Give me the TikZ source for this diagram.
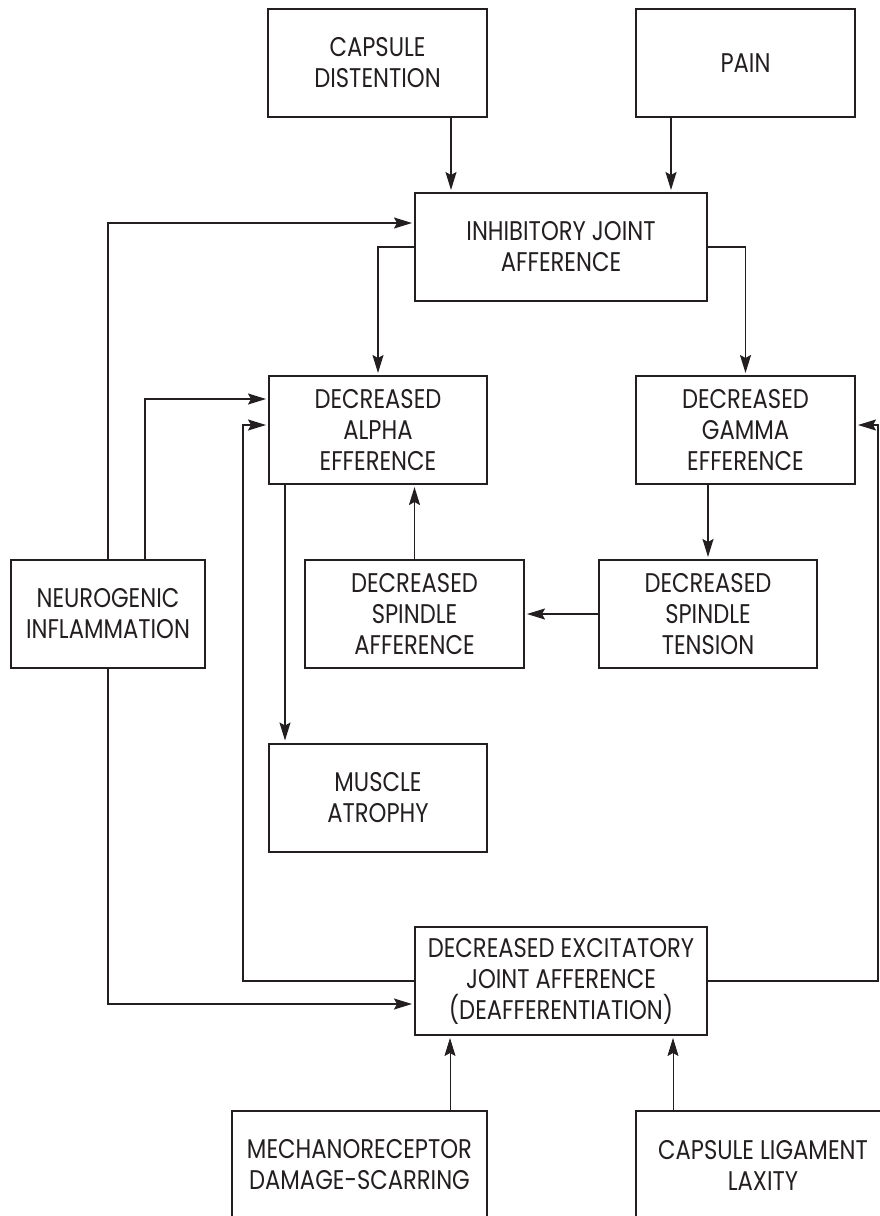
\documentclass[tikz,border=0pt]{standalone}
\usepackage{fontspec}
\setmainfont{Poppins}[FakeStretch=0.84]
\usetikzlibrary{arrows.meta}
\definecolor{ink}{HTML}{231F20}
\begin{document}
\begin{tikzpicture}[x=1pt,y=-1pt,
  box/.style={draw=ink, text=ink, line width=2pt, minimum width=#1,
    minimum height=108pt, align=center, inner sep=0pt,
    font=\fontsize{27}{31}\selectfont},
  arr/.style={draw=ink, line width=1.6pt, shorten >=2pt,
    -{Stealth[length=18pt,width=11pt,inset=3pt]}},
  thinarr/.style={arr, line width=0.8pt}]
\useasboundingbox (0,0) rectangle (880,1216);
\fill[white] (0,0) rectangle (880,1216);
\clip (0,0) rectangle (880,1216);

% boxes
\node[box=219pt] (cap)    at (377.5,63)   {CAPSULE\\DISTENTION};
\node[box=219pt] (pain)   at (745.5,63)   {PAIN};
\node[box=292pt] (inh)    at (561,247)    {INHIBITORY JOINT\\AFFERENCE};
\node[box=218pt] (alpha)  at (378,430)    {DECREASED\\ALPHA\\EFFERENCE};
\node[box=219pt] (gamma)  at (745.5,430)  {DECREASED\\GAMMA\\EFFERENCE};
\node[box=194pt] (neuro)  at (108,614)    {NEUROGENIC\\INFLAMMATION};
\node[box=219pt] (spaff)  at (414.5,614)  {DECREASED\\SPINDLE\\AFFERENCE};
\node[box=218pt] (sptens) at (708,614)    {DECREASED\\SPINDLE\\TENSION};
\node[box=218pt] (muscle) at (378,797.5)  {MUSCLE\\ATROPHY};
\node[box=292pt] (exc)    at (561,981)    {DECREASED EXCITATORY\\JOINT AFFERENCE\\(DEAFFERENTIATION)};
\node[box=255pt] (mech)   at (359.5,1165) {MECHANORECEPTOR\\DAMAGE-SCARRING};
\node[box=254pt] (lig)    at (763,1165)   {CAPSULE LIGAMENT\\LAXITY};

% entry points and bends
\coordinate (capin)  at ([xshift=37pt]inh.north west);
\coordinate (painin) at ([xshift=257pt]inh.north west);
\coordinate (nin2)   at ([xshift=37pt]neuro.north);
\coordinate (aout)   at ([xshift=17pt]alpha.south west);
\coordinate (lbend)  at (243,981);
\coordinate (rbend)  at (878,981);
\coordinate (min)    at ([xshift=36pt]exc.south west);
\coordinate (lin)    at ([xshift=-35pt]exc.south east);

% connectors
\draw[arr] (cap.south -| capin) -- (capin);
\draw[arr] (pain.south -| painin) -- (painin);
\draw[arr] (neuro.north) |- ([yshift=24pt]inh.west);
\draw[arr] (inh.west) -| (alpha.north);
\draw[arr] (inh.east) -| (gamma.north);
\draw[arr] (nin2) |- ([yshift=31pt]alpha.west);
\draw[arr] (aout) -- (aout |- muscle.north);
\draw[arr] (spaff.north) -- (spaff.north |- alpha.south);
\draw[arr] (sptens.north |- gamma.south) -- (sptens.north);
\draw[arr] (sptens.west) -- (spaff.east);
\draw[arr] (exc.west) -- (lbend) |- ([yshift=5pt]alpha.west);
\draw[arr] (exc.east) -- (rbend) |- ([yshift=5pt]gamma.east);
\draw[arr] (neuro.south) |- ([yshift=-23pt]exc.west);
\draw[thinarr] (mech.north -| min) -- (min);
\draw[thinarr] (lig.north -| lin) -- (lin);
\end{tikzpicture}
\end{document}
